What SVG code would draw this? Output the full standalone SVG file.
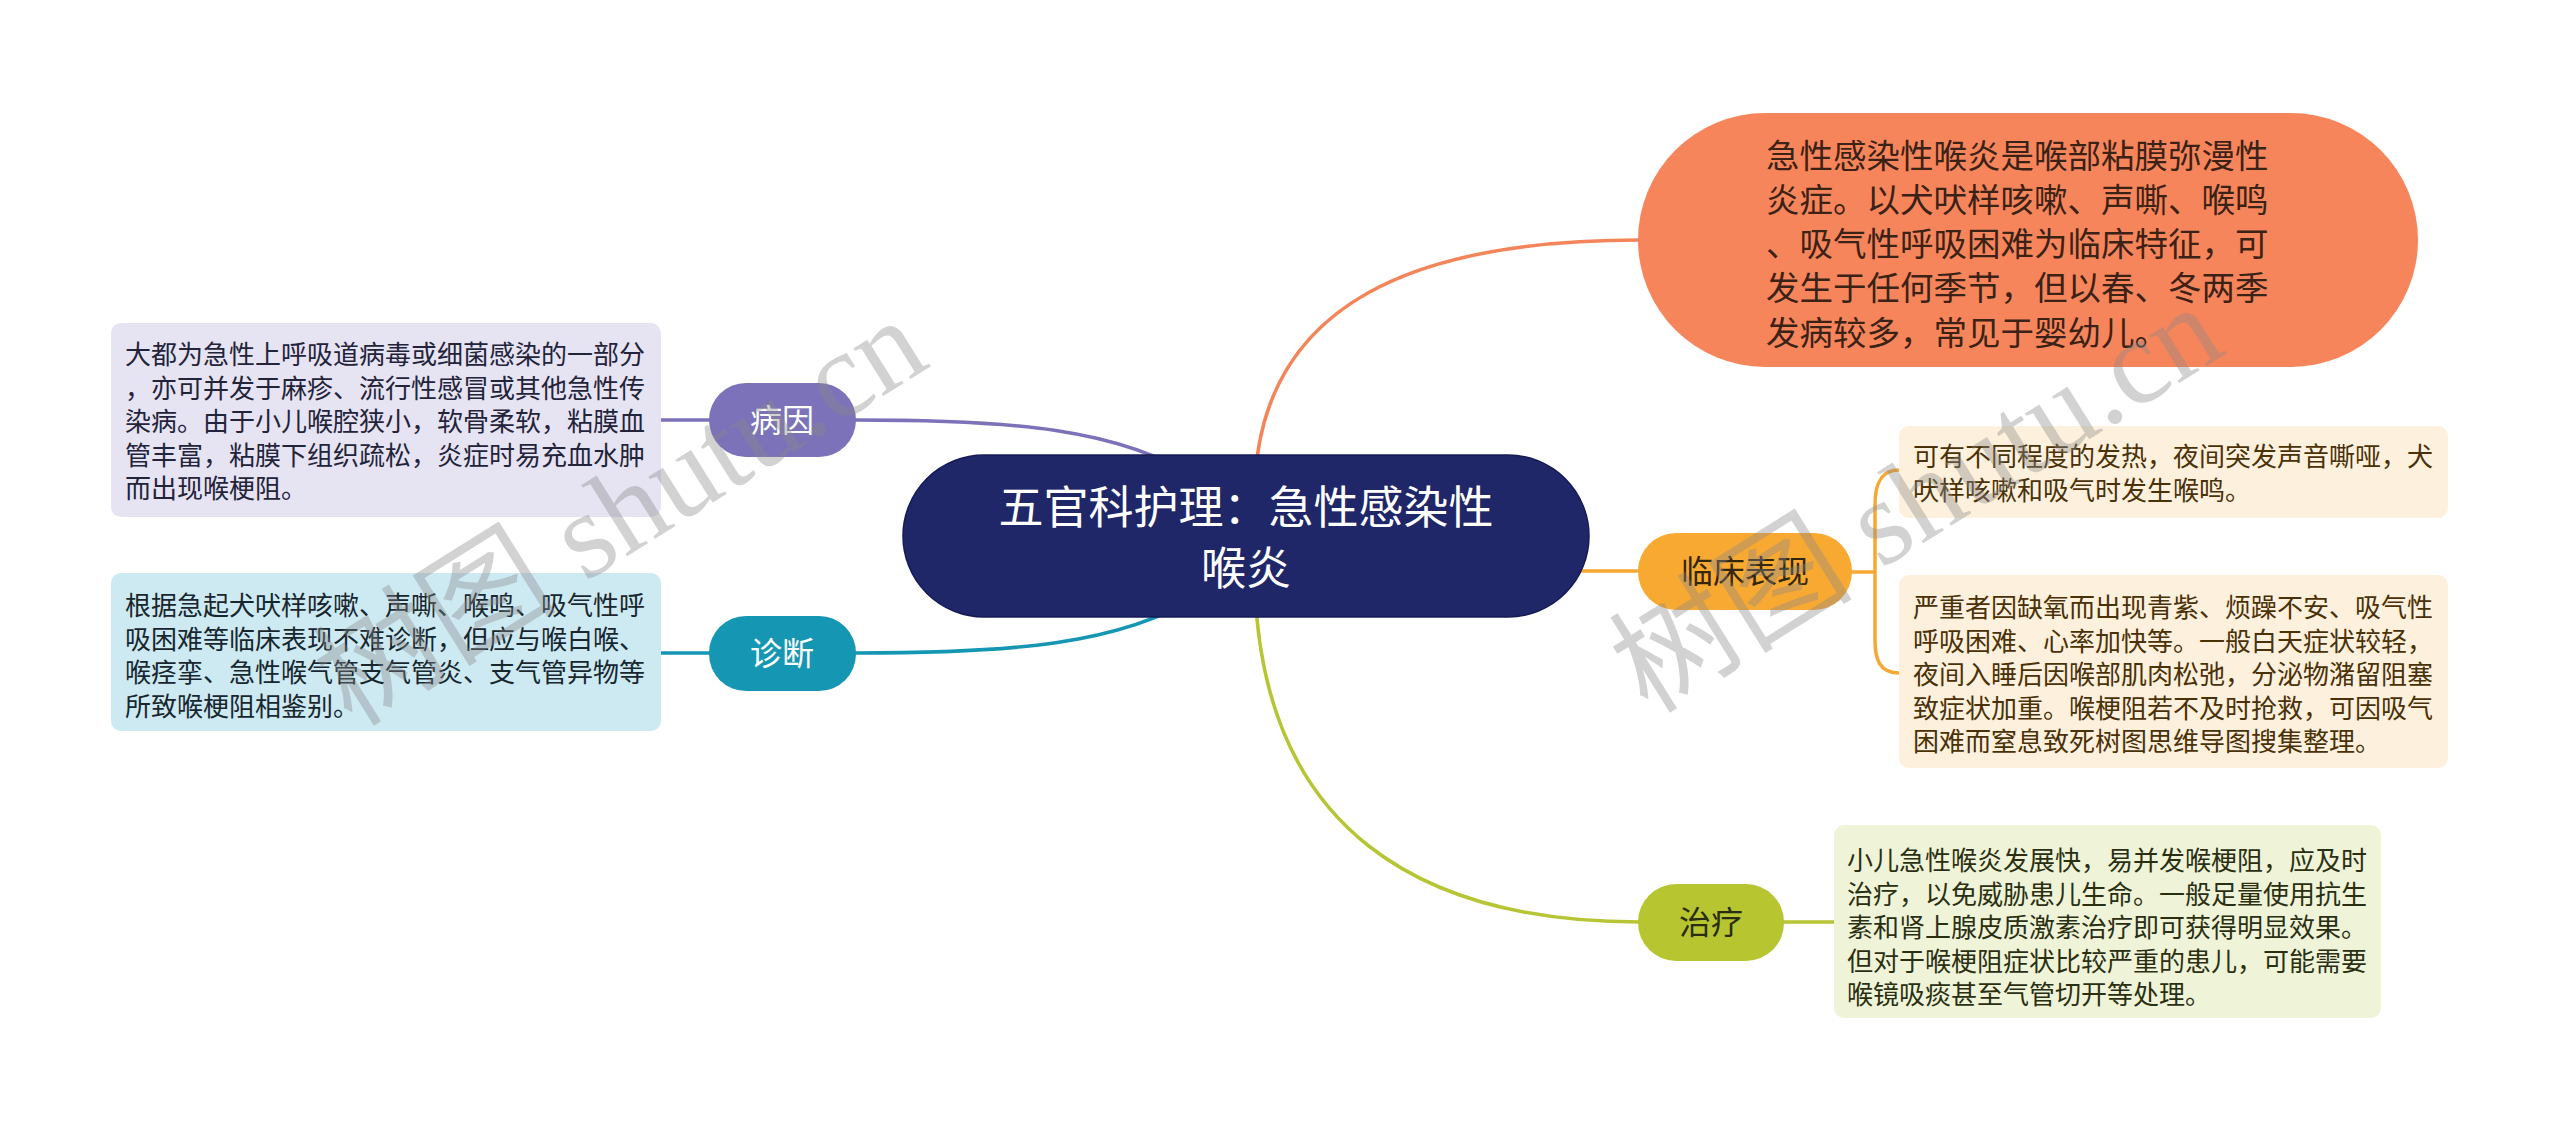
<svg xmlns="http://www.w3.org/2000/svg" width="2560" height="1131" viewBox="0 0 2560 1131">
<style>
.cn{font-family:"Noto Sans CJK SC","Noto Sans",sans-serif}
.dt{font-size:26px}
.lbl{font-size:32px;text-anchor:middle}
.ln{fill:none;stroke-width:3.5;stroke-linecap:round}
.wm{font-family:"Liberation Serif","Noto Sans CJK SC",serif;font-size:122px;fill:#8a8a8a;fill-opacity:0.38}
</style>
<rect width="2560" height="1131" fill="#ffffff"/>
<g id="connectors">
<path class="ln" stroke="#f4845a" d="M1255,480 C1265,300 1420,240 1640,240"/>
<path class="ln" stroke="#f6a833" d="M1560,571 L1640,571"/>
<path class="ln" stroke="#b5c533" d="M1255,590 C1265,830 1420,922 1640,922"/>
<path class="ln" stroke="#7b72b9" d="M856,420 C1010,420 1120,428 1200,480"/>
<path class="ln" stroke="#1597b4" d="M856,653 C1010,653 1120,645 1200,595"/>
<path class="ln" stroke="#7b72b9" d="M661,420 L710,420"/>
<path class="ln" stroke="#1597b4" d="M660,653 L710,653"/>
<path class="ln" stroke="#f6a833" d="M1850,572 L1875,572 M1899,470 C1880,470 1875,485 1875,505 L1875,640 C1875,660 1880,673 1899,673"/>
<path class="ln" stroke="#b5c533" d="M1783,922 L1834,922"/>
</g>
<g id="root">
<rect x="903" y="455" width="686" height="162" rx="81" fill="#202768" stroke="#151b55" stroke-width="1.5"/>
<text class="cn" font-size="45" fill="#ffffff" text-anchor="middle"><tspan x="1246" y="524">五官科护理：急性感染性</tspan><tspan x="1246" y="585">喉炎</tspan></text>
</g>
<g id="definition">
<rect x="1638" y="113" width="780" height="254" rx="127" fill="#f7855b"/>
<text class="cn" font-size="33.5" fill="#3b2216"><tspan x="1766" y="167.7">急性感染性喉炎是喉部粘膜弥漫性</tspan><tspan x="1766" y="211.9">炎症。以犬吠样咳嗽、声嘶、喉鸣</tspan><tspan x="1766" y="256.1">、吸气性呼吸困难为临床特征，可</tspan><tspan x="1766" y="300.3">发生于任何季节，但以春、冬两季</tspan><tspan x="1766" y="344.5">发病较多，常见于婴幼儿。</tspan></text>
</g>
<g id="cause">
<rect x="709" y="383" width="147" height="74" rx="37" fill="#7b72b9"/>
<text class="cn lbl" x="782" y="432" fill="#ffffff">病因</text>
</g>
<g id="cause-detail">
<rect x="111" y="323" width="550" height="194" rx="10" fill="#e6e4f3"/>
<text class="cn dt" fill="#23233a"><tspan x="125" y="364">大都为急性上呼吸道病毒或细菌感染的一部分</tspan><tspan x="125" y="397.5">，亦可并发于麻疹、流行性感冒或其他急性传</tspan><tspan x="125" y="431">染病。由于小儿喉腔狭小，软骨柔软，粘膜血</tspan><tspan x="125" y="464.5">管丰富，粘膜下组织疏松，炎症时易充血水肿</tspan><tspan x="125" y="498">而出现喉梗阻。</tspan></text>
</g>
<g id="diagnosis">
<rect x="709" y="616" width="147" height="75" rx="37" fill="#1597b4"/>
<text class="cn lbl" x="782" y="665" fill="#ffffff">诊断</text>
</g>
<g id="diagnosis-detail">
<rect x="111" y="573" width="550" height="158" rx="10" fill="#cdeaf2"/>
<text class="cn dt" fill="#18262e"><tspan x="125" y="615">根据急起犬吠样咳嗽、声嘶、喉鸣、吸气性呼</tspan><tspan x="125" y="648.5">吸困难等临床表现不难诊断，但应与喉白喉、</tspan><tspan x="125" y="682">喉痉挛、急性喉气管支气管炎、支气管异物等</tspan><tspan x="125" y="715.5">所致喉梗阻相鉴别。</tspan></text>
</g>
<g id="clinical">
<rect x="1638" y="533" width="214" height="77" rx="38" fill="#f8a932"/>
<text class="cn lbl" x="1745" y="583" fill="#33260f">临床表现</text>
</g>
<g id="clinical-detail-1">
<rect x="1899" y="426" width="549" height="92" rx="10" fill="#fdf0dc"/>
<text class="cn dt" fill="#4a3108"><tspan x="1913" y="466">可有不同程度的发热，夜间突发声音嘶哑，犬</tspan><tspan x="1913" y="500">吠样咳嗽和吸气时发生喉鸣。</tspan></text>
</g>
<g id="clinical-detail-2">
<rect x="1899" y="575" width="549" height="193" rx="10" fill="#fdf0dc"/>
<text class="cn dt" fill="#4a3108"><tspan x="1913" y="617">严重者因缺氧而出现青紫、烦躁不安、吸气性</tspan><tspan x="1913" y="650.5">呼吸困难、心率加快等。一般白天症状较轻，</tspan><tspan x="1913" y="684">夜间入睡后因喉部肌肉松弛，分泌物潴留阻塞</tspan><tspan x="1913" y="717.5">致症状加重。喉梗阻若不及时抢救，可因吸气</tspan><tspan x="1913" y="751">困难而窒息致死树图思维导图搜集整理。</tspan></text>
</g>
<g id="treatment">
<rect x="1638" y="884" width="146" height="77" rx="38" fill="#b6c530"/>
<text class="cn lbl" x="1711" y="934" fill="#2a2d10">治疗</text>
</g>
<g id="treatment-detail">
<rect x="1834" y="825" width="547" height="193" rx="10" fill="#eff4d9"/>
<text class="cn dt" fill="#2b2f12"><tspan x="1847" y="870">小儿急性喉炎发展快，易并发喉梗阻，应及时</tspan><tspan x="1847" y="903.5">治疗，以免威胁患儿生命。一般足量使用抗生</tspan><tspan x="1847" y="937">素和肾上腺皮质激素治疗即可获得明显效果。</tspan><tspan x="1847" y="970.5">但对于喉梗阻症状比较严重的患儿，可能需要</tspan><tspan x="1847" y="1004">喉镜吸痰甚至气管切开等处理。</tspan></text>
</g>
<g id="watermark">
<text class="wm" transform="translate(352,728) rotate(-32)">树图 shutu.cn</text>
<text class="wm" transform="translate(1648,715) rotate(-32)">树图 shutu.cn</text>
</g>
</svg>
